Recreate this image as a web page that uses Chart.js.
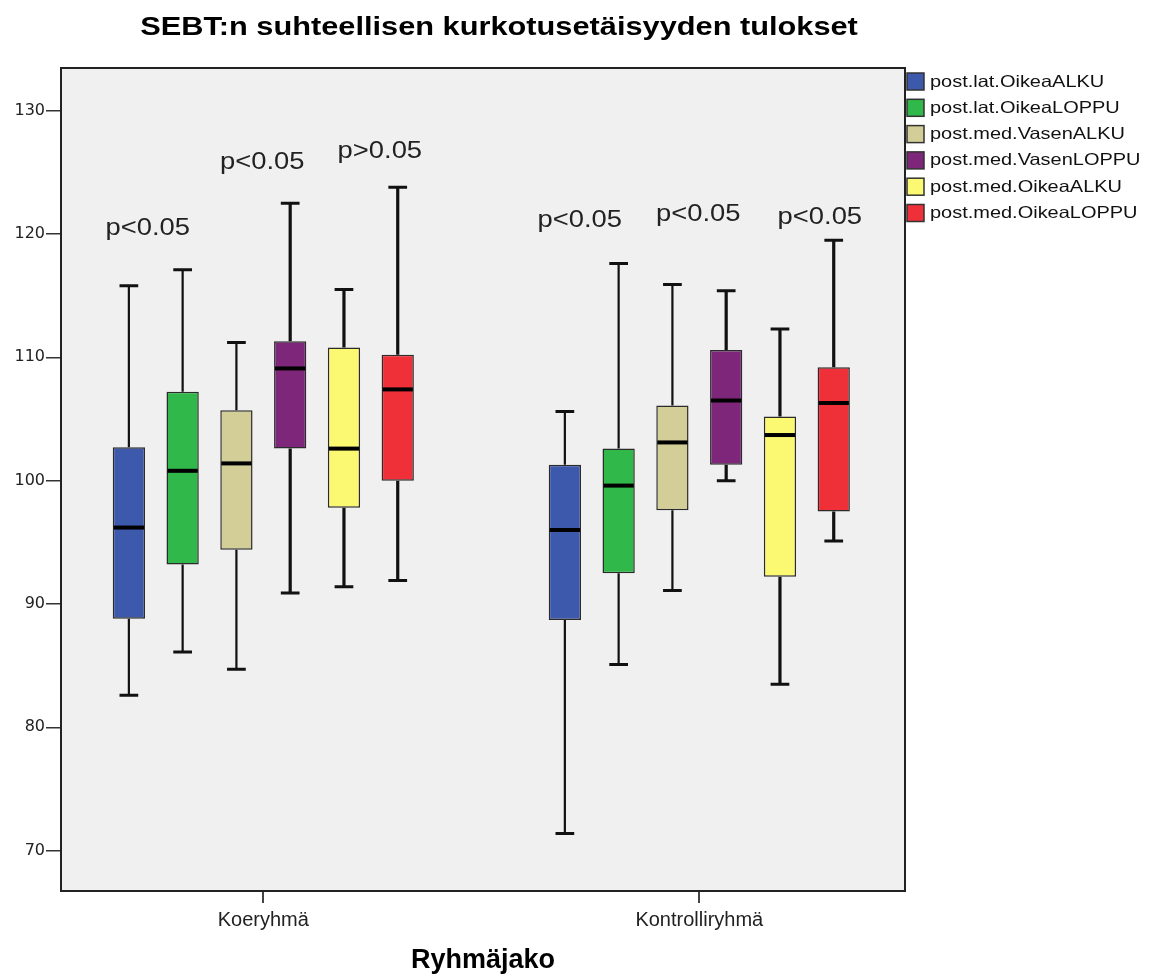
<!DOCTYPE html>
<html><head><meta charset="utf-8">
<script src="https://cdn.jsdelivr.net/npm/chart.js@4/dist/chart.umd.min.js"></script>
<style>html,body{margin:0;padding:0;background:#fff;}</style>
</head><body>
<canvas id="c" width="1160" height="978"></canvas>
<script>
const chartTitle = 'SEBT:n suhteellisen kurkotusetäisyyden tulokset';
const xAxisTitle = 'Ryhmäjako';
const categories = ['Koeryhmä', 'Kontrolliryhmä'];
const seriesLabels = ['post.lat.OikeaALKU', 'post.lat.OikeaLOPPU', 'post.med.VasenALKU', 'post.med.VasenLOPPU', 'post.med.OikeaALKU', 'post.med.OikeaLOPPU'];
const seriesColors = ['#3D59AB', '#30B84A', '#D3CE97', '#7E277A', '#FBF872', '#F03039'];
// [Koeryhmä, Kontrolliryhmä] per series
const minValues    = [[82.6, 71.4], [86.1, 85.1], [84.7, 91.1], [90.9, 100.0], [91.4, 83.5], [91.9, 95.1]];
const q1Values     = [[88.8, 88.7], [93.2, 92.5], [94.4, 97.6], [102.6, 101.3], [97.8, 92.2], [100.0, 97.5]];
const medianValues = [[96.2, 96.0], [100.8, 99.6], [101.4, 103.1], [109.1, 106.5], [102.6, 103.7], [107.4, 106.3]];
const q3Values     = [[102.7, 101.3], [107.2, 102.6], [105.7, 106.1], [111.3, 110.6], [110.8, 105.2], [110.2, 109.2]];
const maxValues    = [[115.8, 105.6], [117.1, 117.6], [111.2, 115.9], [122.5, 115.4], [115.5, 112.3], [123.8, 119.5]];
const yTicks = [70, 80, 90, 100, 110, 120, 130];
const annotationTexts = [['p<0.05', 'p<0.05', 'p>0.05'], ['p<0.05', 'p<0.05', 'p<0.05']];
const annotationValues = [[120.4, 125.8, 126.7], [121.05, 121.55, 121.3]];

const datasets = seriesLabels.map((label, i) => ({
  label,
  data: q1Values[i].map((q1, j) => ({ x: j, y: [q1, q3Values[i][j]] })),
  backgroundColor: seriesColors[i],
  borderColor: '#2b2b2b',
  borderWidth: 1.5,
  borderSkipped: false,
  categoryPercentage: 0.74,
  barPercentage: 0.6
}));

const STRETCH = 1.21;
function stretchedText(ctx, text, x, y, sx) {
  ctx.save();
  ctx.translate(x, y);
  ctx.scale(sx, 1);
  ctx.fillText(text, 0, 0);
  ctx.restore();
}

const bgPlugin = {
  id: 'bg',
  beforeDraw(chart) {
    const { ctx, chartArea: a } = chart;
    ctx.save();
    ctx.fillStyle = '#ffffff';
    ctx.fillRect(0, 0, chart.width, chart.height);
    ctx.fillStyle = '#F0F0F0';
    ctx.fillRect(a.left, a.top, a.right - a.left, a.bottom - a.top);
    ctx.restore();
  }
};

const thickSeries = [false, false, false, true, true, true];

const boxPlugin = {
  id: 'boxWhiskers',
  beforeDatasetsDraw(chart) {
    const { ctx } = chart;
    const ys = chart.scales.y;
    ctx.save();
    ctx.strokeStyle = '#111';
    ctx.lineCap = 'butt';
    chart.data.datasets.forEach((ds, i) => {
      const meta = chart.getDatasetMeta(i);
      meta.data.forEach((bar, j) => {
        const { x, width } = bar.getProps(['x', 'width'], true);
        const cw = width * 0.58;
        ctx.lineWidth = thickSeries[i] ? 3.2 : 2.2;
        const yMax = ys.getPixelForValue(maxValues[i][j]);
        const yQ3 = ys.getPixelForValue(q3Values[i][j]);
        const yQ1 = ys.getPixelForValue(q1Values[i][j]);
        const yMin = ys.getPixelForValue(minValues[i][j]);
        ctx.beginPath();
        ctx.moveTo(x, yMax); ctx.lineTo(x, yQ3);
        ctx.moveTo(x, yQ1); ctx.lineTo(x, yMin);
        ctx.stroke();
        ctx.lineWidth = 3;
        ctx.beginPath();
        ctx.moveTo(x - cw / 2, yMax); ctx.lineTo(x + cw / 2, yMax);
        ctx.moveTo(x - cw / 2, yMin); ctx.lineTo(x + cw / 2, yMin);
        ctx.stroke();
      });
    });
    ctx.restore();
  },
  afterDatasetsDraw(chart) {
    const { ctx } = chart;
    const ys = chart.scales.y;
    ctx.save();
    ctx.strokeStyle = '#000';
    ctx.lineWidth = 4;
    chart.data.datasets.forEach((ds, i) => {
      const meta = chart.getDatasetMeta(i);
      meta.data.forEach((bar, j) => {
        const { x, width } = bar.getProps(['x', 'width'], true);
        const ym = ys.getPixelForValue(medianValues[i][j]);
        ctx.beginPath();
        ctx.moveTo(x - width / 2 + 1, ym); ctx.lineTo(x + width / 2 - 1, ym);
        ctx.stroke();
      });
    });
    // annotations between pairs of boxes
    const offsets = [[-8, -1, 9], [-12, -1, 13]];
    ctx.fillStyle = '#222';
    ctx.font = '23px "Liberation Sans", Arial, sans-serif';
    ctx.textAlign = 'center';
    ctx.textBaseline = 'middle';
    annotationTexts.forEach((row, j) => {
      row.forEach((txt, k) => {
        const a = chart.getDatasetMeta(2 * k).data[j];
        const b = chart.getDatasetMeta(2 * k + 1).data[j];
        const x = (a.x + b.x) / 2 + offsets[j][k];
        const y = ys.getPixelForValue(annotationValues[j][k]);
        stretchedText(ctx, txt, x, y, 1.19);
      });
    });
    ctx.restore();
  },
  afterDraw(chart) {
    const { ctx, chartArea: a } = chart;
    ctx.save();
    // frame
    ctx.strokeStyle = '#222';
    ctx.lineWidth = 2;
    ctx.strokeRect(a.left, a.top, a.right - a.left, a.bottom - a.top);
    // title
    ctx.fillStyle = '#000';
    ctx.font = 'bold 25px "Liberation Sans", Arial, sans-serif';
    ctx.textAlign = 'center';
    ctx.textBaseline = 'alphabetic';
    stretchedText(ctx, chartTitle, (a.left + a.right) / 2 + 16, 35, 1.23);
    // legend
    const lx = a.right + 2;
    let ly = a.top + 5;
    ctx.font = '16.5px "Liberation Sans", Arial, sans-serif';
    ctx.textAlign = 'left';
    ctx.textBaseline = 'middle';
    chart.data.datasets.forEach((ds, i) => {
      ctx.fillStyle = ds.backgroundColor;
      ctx.fillRect(lx, ly, 17, 17);
      ctx.strokeStyle = '#333';
      ctx.lineWidth = 1.5;
      ctx.strokeRect(lx, ly, 17, 17);
      ctx.fillStyle = '#111';
      stretchedText(ctx, ds.label, lx + 23, ly + 9, STRETCH);
      ly += 26.3;
    });
    ctx.restore();
  }
};

new Chart(document.getElementById('c'), {
  type: 'bar',
  data: { datasets },
  options: {
    responsive: false,
    devicePixelRatio: 1,
    animation: false,
    layout: { padding: { top: 68, right: 255, left: 0, bottom: 0 } },
    plugins: { legend: { display: false }, title: { display: false }, tooltip: { enabled: false } },
    scales: {
      x: {
        type: 'linear',
        offset: false,
        min: -0.464,
        max: 1.4718,
        afterBuildTicks(s) { s.ticks = categories.map((c, i) => ({ value: i })); },
        grid: { display: true, offset: false, drawOnChartArea: false, drawTicks: true, tickLength: 12, color: '#444', lineWidth: 2 },
        border: { display: true, color: '#222', width: 2 },
        ticks: { color: '#222', font: { family: '"Liberation Sans", Arial', size: 20 }, padding: 5, maxRotation: 0, callback: (v) => categories[v] },
        title: { display: true, text: xAxisTitle, color: '#000', font: { family: '"Liberation Sans", Arial', size: 27, weight: 'bold' }, padding: { top: 0, bottom: 1 } },
        afterFit(s) { s.height = 87; }
      },
      y: {
        type: 'linear',
        min: 66.73,
        max: 133.46,
        afterBuildTicks(s) { s.ticks = yTicks.map(v => ({ value: v })); },
        grid: { display: true, drawOnChartArea: false, drawTicks: true, tickLength: 15, color: '#333', lineWidth: 1.5 },
        border: { display: true, color: '#222', width: 2 },
        ticks: { color: '#222', font: { family: '"DejaVu Sans"', size: 16 }, padding: 1 },
        afterFit(s) { s.width = 61; }
      }
    }
  },
  plugins: [bgPlugin, boxPlugin]
});
</script>
</body></html>
